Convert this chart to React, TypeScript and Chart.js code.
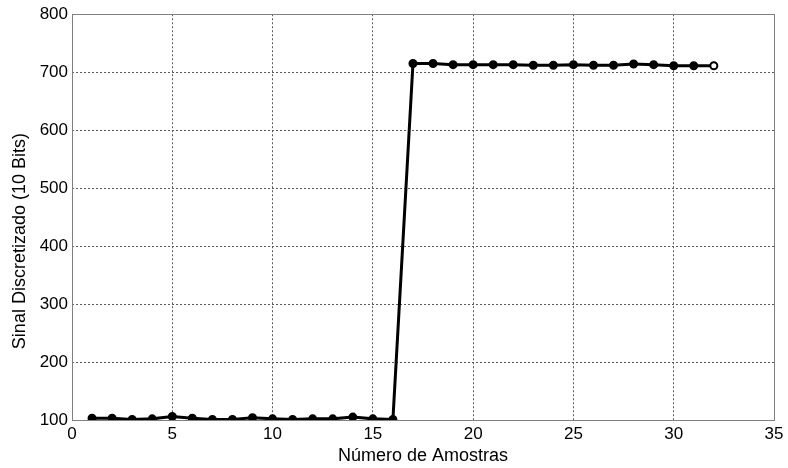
import React, { useEffect, useRef } from "react";
import { Chart, registerables } from "chart.js";
Chart.register(...registerables);

const samples = [1, 2, 3, 4, 5, 6, 7, 8, 9, 10, 11, 12, 13, 14, 15, 16, 17, 18, 19, 20, 21, 22, 23, 24, 25, 26, 27, 28, 29, 30, 31, 32];
const signal = [103, 103, 101, 102, 106, 103, 101, 101, 104, 102, 101, 102, 102, 105, 102, 101, 715, 715, 713, 713, 713, 713, 712, 712, 713, 712, 712, 714, 713, 711, 711, 711];
const xTickValues = [0, 5, 10, 15, 20, 25, 30, 35];
const yTickValues = [100, 200, 300, 400, 500, 600, 700, 800];
const xTitle = "Número de Amostras";
const yTitle = "Sinal Discretizado (10 Bits)";

export default function App() {
  const ref = useRef<HTMLCanvasElement>(null);
  useEffect(() => {
    if (!ref.current) return;
    const family = "'Liberation Sans', Arial, sans-serif";
    const frame = {
      id: "frame",
      beforeDatasetsDraw(chart: any) {
        const { ctx, chartArea: a } = chart;
        ctx.save();
        ctx.strokeStyle = "#808080";
        ctx.lineWidth = 1;
        ctx.setLineDash([]);
        ctx.strokeRect(Math.round(a.left) + 0.5, Math.round(a.top) + 0.5, Math.round(a.right - a.left), Math.round(a.bottom - a.top));
        ctx.restore();
      },
      afterDraw(chart: any) {
        const { ctx, chartArea: a } = chart;
        ctx.save();
        ctx.fillStyle = "#000";
        ctx.font = `18px ${family}`;
        ctx.textAlign = "center";
        ctx.textBaseline = "middle";
        ctx.translate(20, (a.top + a.bottom) / 2 + 24);
        ctx.rotate(-Math.PI / 2);
        ctx.fillText(yTitle, 0, 0);
        ctx.restore();
      },
    };
    const font = { family, size: 17 };
    const chart = new Chart(ref.current, {
      type: "line",
      data: {
        datasets: [
          {
            data: samples.map((x, i) => ({ x, y: signal[i] })),
            borderColor: "#000",
            borderWidth: 3,
            pointRadius: 3.5,
            pointBorderWidth: 2,
            pointBorderColor: "#000",
            pointBackgroundColor: samples.map((_, i) => (i === samples.length - 1 ? "#fff" : "#000")),
            tension: 0,
          },
        ],
      },
      plugins: [frame],
      options: {
        animation: false,
        responsive: false,
        events: [],
        layout: { padding: { top: 14, right: 14, left: 0, bottom: 0 } },
        plugins: { legend: { display: false }, tooltip: { enabled: false } },
        scales: {
          x: {
            type: "linear",
            min: 0,
            max: 35,
            afterBuildTicks: (s: any) => { s.ticks = xTickValues.map((v) => ({ value: v })); },
            afterFit: (s: any) => { s.height = 48; },
            border: { display: false, dash: [2, 2] },
            grid: { color: "#5a5a5a", lineWidth: 1, drawTicks: false },
            ticks: { color: "#000", font, padding: 4, maxRotation: 0 },
            title: { display: true, text: xTitle, color: "#000", font: { family, size: 18 }, padding: { top: 0, bottom: 1 } },
          },
          y: {
            type: "linear",
            min: 100,
            max: 800,
            afterBuildTicks: (s: any) => { s.ticks = yTickValues.map((v) => ({ value: v })); },
            afterFit: (s: any) => { s.width = 72; },
            border: { display: false, dash: [2, 2] },
            grid: { color: "#5a5a5a", lineWidth: 1, drawTicks: false },
            ticks: { color: "#000", font, padding: 4 },
            title: { display: false },
          },
        },
      } as any,
    });
    return () => chart.destroy();
  }, []);
  return (
    <div style={{ position: "absolute", left: 0, top: 0, width: 788, height: 468, background: "#fff" }}>
      <canvas ref={ref} width={788} height={468} style={{ width: 788, height: 468 }} />
    </div>
  );
}
